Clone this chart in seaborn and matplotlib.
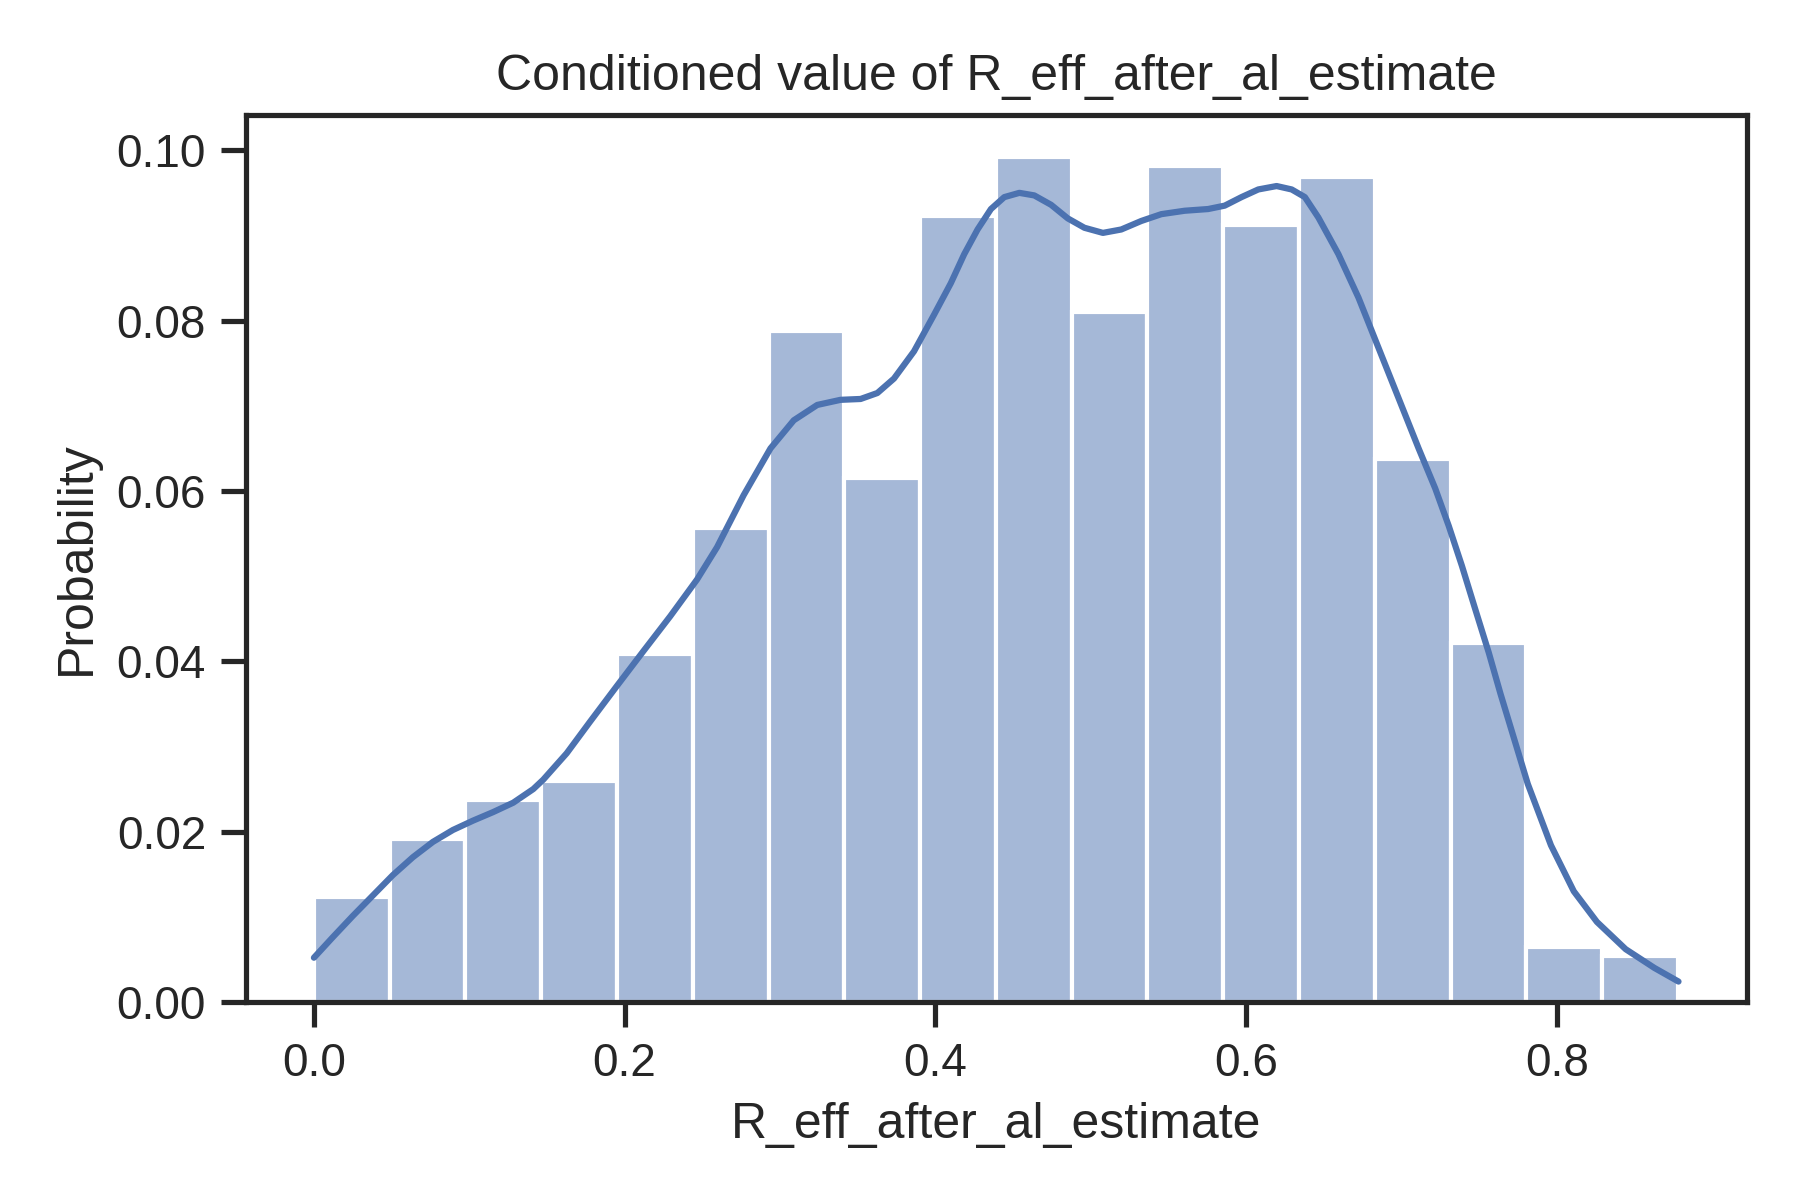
import numpy as np
import pandas as pd
import matplotlib
matplotlib.use("Agg")
import matplotlib.pyplot as plt
import seaborn as sns

# ---- data ----
bin_lo = 0.0
bin_hi = 0.878
n_bins = 18
probabilities = [0.0123, 0.0191, 0.0237, 0.0259, 0.0408, 0.0557, 0.0788, 0.0615,
                 0.0923, 0.0992, 0.0810, 0.0981, 0.0912, 0.0969, 0.0637, 0.0421,
                 0.0065, 0.0054]

kde_x = [0.0000, 0.0121, 0.0250, 0.0379, 0.0508, 0.0637, 0.0766, 0.0895, 0.1025,
         0.1154, 0.1283, 0.1412, 0.1476, 0.1627, 0.1777, 0.1950, 0.2121, 0.2294,
         0.2466, 0.2595, 0.2766, 0.2939, 0.3089, 0.3240, 0.3390, 0.3519, 0.3627,
         0.3734, 0.3863, 0.3992, 0.4100, 0.4186, 0.4272, 0.4358, 0.4444, 0.4541,
         0.4637, 0.4745, 0.4853, 0.4960, 0.5079, 0.5197, 0.5326, 0.5455, 0.5605,
         0.5756, 0.5863, 0.5971, 0.6079, 0.6197, 0.6294, 0.6379, 0.6466, 0.6595,
         0.6724, 0.6853, 0.6982, 0.7111, 0.7218, 0.7305, 0.7390, 0.7476, 0.7563,
         0.7638, 0.7814, 0.7963, 0.8110, 0.8259, 0.8444, 0.8629, 0.8784]
kde_y = [0.0052, 0.0076, 0.0101, 0.0125, 0.0149, 0.0170, 0.0188, 0.0202, 0.0213,
         0.0223, 0.0234, 0.0250, 0.0261, 0.0292, 0.0329, 0.0371, 0.0412, 0.0453,
         0.0496, 0.0534, 0.0595, 0.0650, 0.0683, 0.0701, 0.0707, 0.0708, 0.0715,
         0.0732, 0.0764, 0.0807, 0.0844, 0.0878, 0.0907, 0.0931, 0.0945, 0.0950,
         0.0947, 0.0936, 0.0920, 0.0909, 0.0903, 0.0907, 0.0917, 0.0925, 0.0929,
         0.0931, 0.0935, 0.0945, 0.0954, 0.0958, 0.0954, 0.0945, 0.0921, 0.0878,
         0.0827, 0.0768, 0.0709, 0.0650, 0.0603, 0.0559, 0.0512, 0.0461, 0.0410,
         0.0362, 0.0256, 0.0184, 0.0130, 0.0094, 0.0062, 0.0040, 0.0024]

title = "Conditioned value of R_eff_after_al_estimate"
xlabel = "R_eff_after_al_estimate"
ylabel = "Probability"

# ---- plotting ----
sns.set_theme(style="ticks", context="notebook")
plt.rcParams["font.family"] = ["Liberation Sans", "DejaVu Sans"]

edges = np.linspace(bin_lo, bin_hi, n_bins + 1)
centers = (edges[:-1] + edges[1:]) / 2
df = pd.DataFrame({"x": centers, "w": probabilities})
kde_df = pd.DataFrame({"x": kde_x, "y": kde_y})

fig, ax = plt.subplots(figsize=(6, 4), dpi=300)
fig.subplots_adjust(left=0.1365, right=0.9704, top=0.9043, bottom=0.165)

sns.histplot(data=df, x="x", weights="w", bins=n_bins,
             binrange=(bin_lo, bin_hi), stat="count",
             color="#4c72b0", alpha=0.5, edgecolor="white", ax=ax)
sns.lineplot(data=kde_df, x="x", y="y", color="#4c72b0", linewidth=1.5,
             solid_capstyle="round", solid_joinstyle="round", ax=ax)

ax.set_title(title)
ax.set_xlabel(xlabel)
ax.set_ylabel(ylabel)
ax.set_yticks([0.00, 0.02, 0.04, 0.06, 0.08, 0.10])

fig.savefig("out.png", dpi=300)
